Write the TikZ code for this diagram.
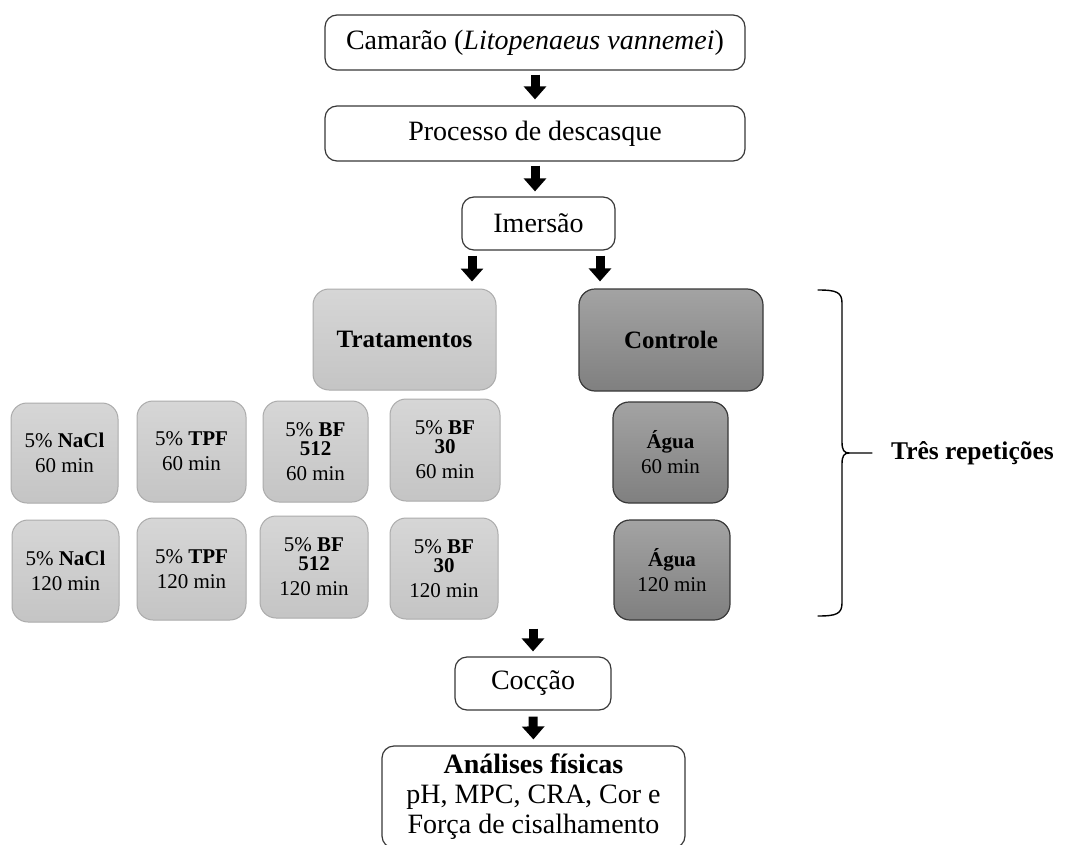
\documentclass[tikz,border=0pt]{standalone}
\usepackage{fontspec}
\setmainfont{Liberation Serif}
\usetikzlibrary{arrows.meta}
\begin{document}
\begin{tikzpicture}[x=1pt,y=-1pt,
  wbox/.style={draw=black!78, line width=1.2pt, rounded corners=12pt, fill=white, inner sep=0pt, align=center, font=\fontsize{28}{30}\selectfont},
  lbox/.style={draw=black!33, line width=1pt, rounded corners=16pt, top color=black!16, bottom color=black!23, inner sep=0pt, align=center, font=\fontsize{21}{25}\selectfont},
  dbox/.style={draw=black!78, line width=1.2pt, rounded corners=16pt, top color=black!36, bottom color=black!50, inner sep=0pt, align=center, font=\fontsize{21}{25}\selectfont},
  big/.style={font=\fontsize{25}{28}\selectfont\bfseries},
  blk/.style={line width=9pt, -{Triangle[length=13pt,width=22pt]}},
  bracepath/.style={line width=1.4pt, line cap=round}]
\useasboundingbox (0,0) rectangle (1067,845);

% main chain
\node[wbox, minimum width=420pt, minimum height=55pt] (cam) at (535,42.5) {Camarão (\textit{Litopenaeus vannemei})};
\node[wbox, minimum width=420pt, minimum height=55pt] (proc) at (535,133.5) {Processo de descasque};
\node[wbox, minimum width=153pt, minimum height=53pt] (imer) at (538.5,223.5) {Imersão};

\node[lbox, big, minimum width=183pt, minimum height=101pt] (trat) at (404.5,339.5) {Tratamentos};
\node[dbox, big, minimum width=184pt, minimum height=102pt] (ctrl) at (671,340) {Controle};

% treatment grid
\node[lbox, minimum width=107pt, minimum height=100pt] (n1) at (64.5,453) {5\% \textbf{NaCl}\\60 min};
\node[lbox, minimum width=109pt, minimum height=101pt] (t1) at (191.5,451.5) {5\% \textbf{TPF}\\60 min};
\node[lbox, minimum width=105pt, minimum height=101pt] (b1) at (315.5,451.5) {5\% \textbf{BF}\\[-6pt]\textbf{512}\\60 min};
\node[lbox, minimum width=110pt, minimum height=102pt] (c1) at (445,450) {5\% \textbf{BF}\\[-6pt]\textbf{30}\\60 min};
\node[lbox, minimum width=107pt, minimum height=102pt] (n2) at (65.5,571) {5\% \textbf{NaCl}\\120 min};
\node[lbox, minimum width=109pt, minimum height=102pt] (t2) at (191.5,569) {5\% \textbf{TPF}\\120 min};
\node[lbox, minimum width=108pt, minimum height=102pt] (b2) at (314,567) {5\% \textbf{BF}\\[-6pt]\textbf{512}\\120 min};
\node[lbox, minimum width=108pt, minimum height=101pt] (c2) at (444,568.5) {5\% \textbf{BF}\\[-6pt]\textbf{30}\\120 min};

\node[dbox, minimum width=115pt, minimum height=101pt] (a1) at (670.5,452.5) {\textbf{Água}\\60 min};
\node[dbox, minimum width=116pt, minimum height=100pt] (a2) at (672,570) {\textbf{Água}\\120 min};

\node[wbox, minimum width=156pt, minimum height=53pt] (cocc) at (533,683.5) {Cocção};
\node[wbox, minimum width=303pt, minimum height=102pt] (anal) at (533.5,797) {\textbf{Análises físicas}\\pH, MPC, CRA, Cor e\\Força de cisalhamento};

% label
\node[anchor=west, font=\fontsize{25.5}{28}\selectfont\bfseries, inner sep=0pt] (rep) at (891,453) {Três repetições};

% arrows
\draw[blk, shorten <=4pt, shorten >=6pt] (cam.south) -- (proc.north);
\draw[blk, shorten <=4pt, shorten >=5pt] (proc.south) -- (proc.south |- imer.north);
\draw[blk, shorten <=5pt, shorten >=7pt] ([xshift=-66.5pt]imer.south) -- ([xshift=-66.5pt]imer.south |- trat.north);
\draw[blk, shorten <=5pt, shorten >=7pt] ([xshift=61.5pt]imer.south) -- ([xshift=61.5pt]imer.south |- ctrl.north);
\draw[blk, shorten <=9pt, shorten >=5pt] (cocc.north |- c2.south) -- (cocc.north);
\draw[blk, shorten <=6pt, shorten >=6pt] (cocc.south) -- (anal.north);

% brace
\coordinate (cusp) at (849,453);
\draw[bracepath] (818,290) .. controls (836,290) and (842,292) .. (842,303) -- (842,442) .. controls (842,450) and (844,453) .. (cusp) -- ([xshift=-19pt]rep.west);
\draw[bracepath] (818,616) .. controls (836,616) and (842,614) .. (842,603) -- (842,464) .. controls (842,456) and (844,453) .. (cusp);
\end{tikzpicture}
\end{document}
